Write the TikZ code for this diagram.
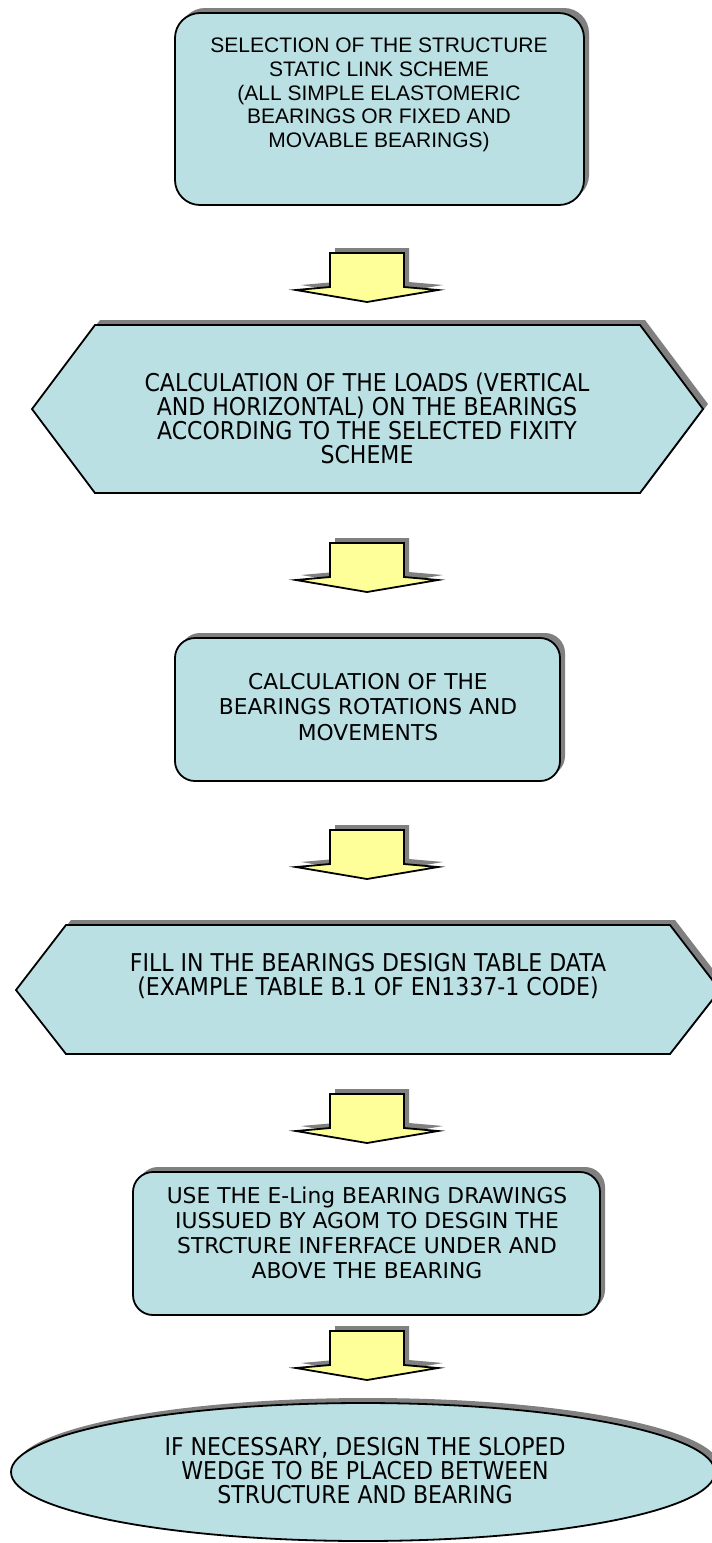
\documentclass[tikz,border=0pt]{standalone}
\usepackage{fontspec}
\setmainfont{DejaVu Sans}
\newfontfamily\arialfont{Liberation Sans}
\newfontfamily\tahfont[FakeStretch=0.9]{DejaVu Sans}
\definecolor{boxblue}{RGB}{186,224,228}
\definecolor{arrowyellow}{RGB}{255,255,153}
\definecolor{shadowgray}{RGB}{128,128,128}
\tikzset{
  shapebox/.style={fill=boxblue, draw=black, line width=1.8pt, line join=miter},
  shadowshape/.style={fill=shadowgray, draw=none},
  arrowshape/.style={fill=arrowyellow, draw=black, line width=1.8pt, line join=miter},
  shadowshift/.style={shift={(5,-5)}},
  arialtext/.style={align=center, inner sep=0pt, font=\arialfont\fontsize{21}{23.7}\selectfont},
  boxtext/.style={align=center, inner sep=0pt, font=\fontsize{21.8}{25.2}\selectfont},
  hextext/.style={align=center, inner sep=0pt, font=\tahfont\fontsize{24.5}{24}\selectfont},
}
\newcommand\blockarrow[2]{%
  \fill[shadowgray, shift={(5,-5)}] (#1-37,#2) -- (#1+37,#2) -- (#1+37,#2+34) -- (#1+71,#2+37) -- (#1,#2+49) -- (#1-71,#2+37) -- (#1-37,#2+34) -- cycle;
  \draw[arrowshape] (#1-37,#2) -- (#1+37,#2) -- (#1+37,#2+34) -- (#1+71,#2+37) -- (#1,#2+49) -- (#1-71,#2+37) -- (#1-37,#2+34) -- cycle;
}
\begin{document}
\begin{tikzpicture}[x=1pt,y=-1pt]
\useasboundingbox (0,0) rectangle (712,1543);
\clip (0,0) rectangle (712,1543);

% Box 1
\fill[shadowshape, rounded corners=25] (180,8) rectangle (589,200);
\draw[shapebox, rounded corners=25] (175,13) rectangle (584,205);
\node[arialtext] (t1) at (379,95) {SELECTION OF THE STRUCTURE\\STATIC LINK SCHEME\\(ALL SIMPLE ELASTOMERIC\\BEARINGS OR FIXED AND\\MOVABLE BEARINGS)};

\blockarrow{367}{253}

% Hexagon 1
\fill[shadowshape, shadowshift] (32,409) -- (95,325) -- (640,325) -- (703,409) -- (640,493) -- (95,493) -- cycle;
\draw[shapebox] (32,409) -- (95,325) -- (640,325) -- (703,409) -- (640,493) -- (95,493) -- cycle;
\node[hextext] (t2) at (367,418) {CALCULATION OF THE LOADS (VERTICAL\\AND HORIZONTAL) ON THE BEARINGS\\ACCORDING TO THE SELECTED FIXITY\\SCHEME};

\blockarrow{367}{543}

% Box 3
\fill[shadowshape, rounded corners=20] (180,633) rectangle (565,776);
\draw[shapebox, rounded corners=20] (175,638) rectangle (560,781);
\node[boxtext] (t3) at (368,707) {CALCULATION OF THE\\BEARINGS ROTATIONS AND\\MOVEMENTS};

\blockarrow{367}{830}

% Hexagon 2
\fill[shadowshape, shadowshift] (16,990) -- (66,925) -- (670,925) -- (720,990) -- (670,1054) -- (66,1054) -- cycle;
\draw[shapebox] (16,990) -- (66,925) -- (670,925) -- (720,990) -- (670,1054) -- (66,1054) -- cycle;
\node[hextext] (t4) at (368,976) {FILL IN THE BEARINGS DESIGN TABLE DATA\\(EXAMPLE TABLE B.1 OF EN1337-1 CODE)};

\blockarrow{367}{1094}

% Box 5
\fill[shadowshape, rounded corners=20] (138,1167) rectangle (605,1310);
\draw[shapebox, rounded corners=20] (133,1172) rectangle (600,1315);
\node[boxtext] (t5) at (367,1233) {USE THE E-Ling BEARING DRAWINGS\\IUSSUED BY AGOM TO DESGIN THE\\STRCTURE INFERFACE UNDER AND\\ABOVE THE BEARING};

\blockarrow{367}{1331}

% Ellipse
\fill[shadowshape] (368,1467) ellipse [x radius=352, y radius=69];
\draw[shapebox] (363,1472) ellipse [x radius=352, y radius=69];
\node[hextext] (t6) at (365,1471) {IF NECESSARY, DESIGN THE SLOPED\\WEDGE TO BE PLACED BETWEEN\\STRUCTURE AND BEARING};
\end{tikzpicture}
\end{document}
